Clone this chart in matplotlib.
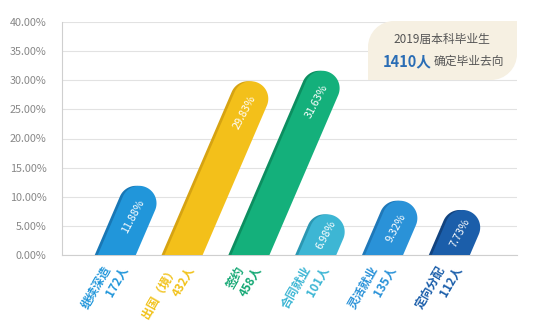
import numpy as np
import matplotlib
matplotlib.use("Agg")
import matplotlib.pyplot as plt
from matplotlib.patches import Polygon, PathPatch
from matplotlib.path import Path

plt.rcParams['font.family'] = ['Noto Sans CJK SC', 'DejaVu Sans']

categories = ['继续深造', '出国（境）', '签约', '合同就业', '灵活就业', '定向分配']
counts = [172, 432, 458, 101, 135, 112]
pcts = [11.88, 29.83, 31.63, 6.98, 9.32, 7.73]
bar_colors = ['#2196DA', '#F3C01A', '#14B07B', '#3DB6D4', '#2A92D8', '#1B5EAA']
shadow_colors = ['#1877B5', '#D6A312', '#0C8E60', '#2B97B2', '#1F78B8', '#12437F']
label_colors = ['#2196DA', '#F1C21B', '#14A874', '#3DB6D4', '#2A92D8', '#1B5EAA']
yticks = [0, 5, 10, 15, 20, 25, 30, 35, 40]
total = 1410

W, H = 536, 327
fig = plt.figure(figsize=(W / 100, H / 100), dpi=100)
ax = fig.add_axes([62 / W, (H - 255) / H, (517 - 62) / W, (255 - 22) / H])
ax.set_ylim(0, 40)
ax.set_xlim(-0.82, 5.99)
ax.set_yticks(yticks)
ax.set_yticklabels([f'{t:.2f}%' for t in yticks], color='#888888', fontsize=7.8)
ax.tick_params(axis='y', length=0, pad=11)
ax.set_xticks([])
ax.grid(axis='y', color='#e2e2e2', lw=0.8)
ax.set_axisbelow(True)
for s in ['top', 'right']:
    ax.spines[s].set_visible(False)
ax.spines['left'].set_color('#cfcfcf')
ax.spines['bottom'].set_color('#cfcfcf')
ax.spines['left'].set_linewidth(0.8)
ax.spines['bottom'].set_linewidth(0.8)

slope = 0.43
r = 17.5
norm = np.hypot(slope, 1)
u = np.array([slope, 1.0]) / norm
nv = np.array([1.0, -slope]) / norm
inv = ax.transData.inverted()


def bar_poly(i, v, shift=0.0):
    B = ax.transData.transform((i, 0))
    top = ax.transData.transform((i, v))[1]
    Cy = top - r
    C = np.array([B[0] + slope * (Cy - B[1]), Cy])
    hw = r * norm
    pts = [(B[0] - hw, B[1]), (B[0] + hw, B[1])]
    for t in np.linspace(0, np.pi, 40):
        p = C + r * (np.cos(t) * nv + np.sin(t) * u)
        pts.append(tuple(p))
    pts = np.array(pts)
    pts[:, 0] += shift
    return inv.transform(pts), B


for i, (v, c, sc) in enumerate(zip(pcts, bar_colors, shadow_colors)):
    sp, _ = bar_poly(i, v, shift=-3.0)
    ax.add_patch(Polygon(sp, closed=True, facecolor=sc, edgecolor='none', zorder=2, clip_on=False))
    mp, B = bar_poly(i, v)
    ax.add_patch(Polygon(mp, closed=True, facecolor=c, edgecolor='none', zorder=3, clip_on=False))
    top = ax.transData.transform((i, v))[1]
    h = top - B[1]
    dh = max(h - 31, h / 2)
    ty = B[1] + dh
    tx = B[0] + slope * dh
    tpos = inv.transform((tx, ty))
    ax.text(tpos[0], tpos[1], f'{v:.2f}%', color='white', fontsize=7.8, rotation=62,
            rotation_mode='anchor', ha='center', va='center', zorder=4)

for i, (cat, n, lc) in enumerate(zip(categories, counts, label_colors)):
    ax.annotate(cat, xy=(i, 0), xytext=(-9 * 0.72, -12 * 0.72), textcoords='offset points',
                rotation=60, rotation_mode='anchor', ha='right', va='center',
                color=lc, fontsize=8.5, fontweight='bold', annotation_clip=False)
    ax.annotate(f'{n}人', xy=(i, 0), xytext=(9 * 0.72, -12 * 0.72), textcoords='offset points',
                rotation=60, rotation_mode='anchor', ha='right', va='center',
                color=lc, fontsize=8.5, fontweight='bold', annotation_clip=False)

# info box (leaf shape) in pixel coordinates -> figure fraction
x0, x1, y0, y1 = 368, 517, H - 80, H - 21
rad = 26
k = 0.5523
verts = [
    (x0, y0), (x1 - rad, y0),
    (x1 - rad + rad * k, y0), (x1, y0 + rad - rad * k), (x1, y0 + rad),
    (x1, y1), (x0 + rad, y1),
    (x0 + rad - rad * k, y1), (x0, y1 - rad + rad * k), (x0, y1 - rad),
    (x0, y0), (x0, y0),
]
codes = [Path.MOVETO, Path.LINETO,
         Path.CURVE4, Path.CURVE4, Path.CURVE4,
         Path.LINETO, Path.LINETO,
         Path.CURVE4, Path.CURVE4, Path.CURVE4,
         Path.LINETO, Path.CLOSEPOLY]
verts = [(a / W, b / H) for a, b in verts]
fig.patches.append(PathPatch(Path(verts, codes), facecolor='#F6F0E2', edgecolor='none',
                             transform=fig.transFigure, zorder=5))
fig.text(442 / W, 1 - 40 / H, '2019届本科毕业生', color='#555555', fontsize=8.5,
         ha='center', va='center', zorder=6)
fig.text(383 / W, 1 - 61 / H, f'{total}人', color='#2A6DB5', fontsize=10.5, fontweight='bold',
         ha='left', va='center', zorder=6)
fig.text(434 / W, 1 - 61 / H, '确定毕业去向', color='#555555', fontsize=8.5,
         ha='left', va='center', zorder=6)

fig.savefig('out.png', dpi=100)
